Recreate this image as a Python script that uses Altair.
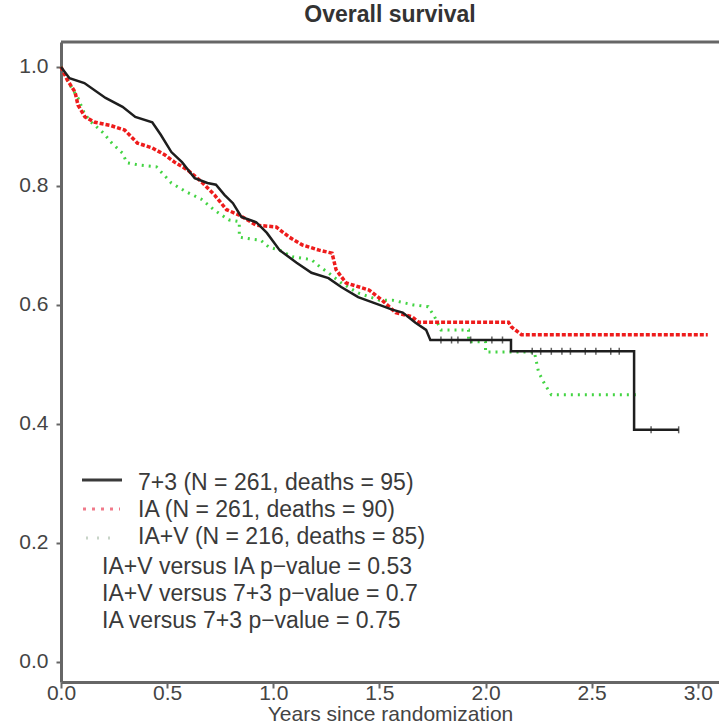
import altair as alt
import pandas as pd

# Kaplan-Meier overall survival, polyline vertices (years, survival probability)
arm_73_t = [0.0, 0.04, 0.11, 0.21, 0.29, 0.35, 0.43, 0.47, 0.52, 0.57, 0.63, 0.69,
            0.73, 0.77, 0.81, 0.85, 0.92, 0.97, 1.03, 1.11, 1.18, 1.26, 1.32, 1.40,
            1.50, 1.56, 1.61, 1.67, 1.72, 1.74, 2.12, 2.12, 2.70, 2.70, 2.91]
arm_73_s = [1.0, 0.981, 0.973, 0.948, 0.933, 0.916, 0.907, 0.886, 0.857, 0.840, 0.813, 0.805,
            0.802, 0.785, 0.771, 0.748, 0.739, 0.721, 0.692, 0.671, 0.654, 0.645, 0.630, 0.613,
            0.600, 0.592, 0.587, 0.570, 0.558, 0.541, 0.541, 0.522, 0.522, 0.390, 0.390]

arm_ia_t = [0.0, 0.03, 0.066, 0.08, 0.113, 0.16, 0.23, 0.30, 0.36, 0.43, 0.49, 0.535,
            0.596, 0.662, 0.723, 0.78, 0.84, 0.92, 1.014, 1.075, 1.136, 1.216, 1.277, 1.296,
            1.343, 1.451, 1.512, 1.577, 1.653, 1.685, 2.108, 2.122, 2.169, 3.047]
arm_ia_s = [1.0, 0.978, 0.958, 0.936, 0.916, 0.907, 0.902, 0.894, 0.872, 0.864, 0.852, 0.840,
            0.827, 0.807, 0.785, 0.760, 0.751, 0.734, 0.731, 0.714, 0.701, 0.692, 0.687, 0.659,
            0.637, 0.625, 0.608, 0.587, 0.580, 0.571, 0.571, 0.563, 0.550, 0.550]

arm_iav_t = [0.0, 0.05, 0.08, 0.11, 0.14, 0.20, 0.24, 0.29, 0.31, 0.37, 0.45, 0.52,
             0.59, 0.66, 0.72, 0.79, 0.84, 0.84, 0.89, 0.94, 0.98, 1.03, 1.09, 1.18,
             1.22, 1.26, 1.32, 1.40, 1.50, 1.56, 1.66, 1.73, 1.76, 1.79, 1.92, 1.92,
             2.00, 2.00, 2.23, 2.25, 2.28, 2.31, 2.72]
arm_iav_s = [1.0, 0.965, 0.948, 0.922, 0.908, 0.889, 0.872, 0.855, 0.839, 0.835, 0.832, 0.805,
             0.790, 0.778, 0.760, 0.743, 0.740, 0.714, 0.711, 0.709, 0.697, 0.692, 0.681, 0.676,
             0.664, 0.654, 0.637, 0.620, 0.608, 0.608, 0.600, 0.597, 0.580, 0.558, 0.558, 0.538,
             0.538, 0.521, 0.521, 0.487, 0.466, 0.449, 0.449]

# censoring marks on the 7+3 curve
censor_73_t = [1.79, 1.84, 1.87, 1.93, 2.03, 2.08, 2.22, 2.26, 2.31, 2.36, 2.40, 2.47,
               2.52, 2.59, 2.63, 2.78, 2.91]
censor_73_s = [0.541, 0.541, 0.541, 0.541, 0.541, 0.541, 0.522, 0.522, 0.522, 0.522, 0.522, 0.522,
               0.522, 0.522, 0.522, 0.390, 0.390]

legend_labels = ["7+3 (N = 261, deaths = 95)",
                 "IA (N = 261, deaths = 90)",
                 "IA+V (N = 216, deaths = 85)"]
pvalue_labels = ["IA+V versus IA p\u2212value = 0.53",
                 "IA+V versus 7+3 p\u2212value = 0.7",
                 "IA versus 7+3 p\u2212value = 0.75"]
chart_title = "Overall survival"
x_title = "Years since randomization"
x_ticks = [0.0, 0.5, 1.0, 1.5, 2.0, 2.5, 3.0]
y_ticks = [0.0, 0.2, 0.4, 0.6, 0.8, 1.0]

W, H = 658, 640
FONT = "Liberation Sans"
AXIS_GREY = "#666666"
TEXT_GREY = "#3a3a3a"


def curve(t, s):
    return pd.DataFrame({"t": t, "s": s, "i": list(range(len(t)))})


x_enc = alt.X("t:Q", scale=alt.Scale(domain=[0, 3.10], nice=False, zero=False),
              axis=alt.Axis(values=x_ticks, format=".1f", title=x_title, grid=False,
                            domainColor=AXIS_GREY, domainWidth=3, tickColor=AXIS_GREY,
                            tickWidth=2, tickSize=6, labelFontSize=21, labelFont=FONT,
                            labelColor="#444444", labelBaseline="middle", labelPadding=5,
                            labelFlush=False, labelOverlap=False, titleFont=FONT,
                            titleFontSize=21, titleFontWeight="normal", titleColor="#444444",
                            titleBaseline="middle", titleY=32))
y_enc = alt.Y("s:Q", scale=alt.Scale(domain=[-0.034, 1.042], nice=False, zero=False),
              axis=alt.Axis(values=y_ticks, format=".1f", title=None, grid=False,
                            domainColor=AXIS_GREY, domainWidth=3, tickColor=AXIS_GREY,
                            tickWidth=2, tickSize=5, labelFontSize=21, labelFont=FONT,
                            labelColor="#444444", labelPadding=8, labelBaseline="middle",
                            labelFlush=False, labelOverlap=False))

layers = []

# survival curves
layers.append(alt.Chart(curve(arm_iav_t, arm_iav_s)).mark_line(
    color="#22cc22", strokeWidth=3, strokeDash=[2, 5], opacity=0.85
).encode(x=x_enc, y=y_enc, order="i:Q"))
layers.append(alt.Chart(curve(arm_ia_t, arm_ia_s)).mark_line(
    color="#ee1c1c", strokeWidth=3.5, strokeDash=[4, 2]
).encode(x=x_enc, y=y_enc, order="i:Q"))
layers.append(alt.Chart(curve(arm_73_t, arm_73_s)).mark_line(
    color="#1e1e1e", strokeWidth=2.5
).encode(x=x_enc, y=y_enc, order="i:Q"))
layers.append(alt.Chart(pd.DataFrame({"t": censor_73_t, "s": censor_73_s})).mark_tick(
    color="#1e1e1e", orient="vertical", size=7, thickness=1.5
).encode(x=x_enc, y=y_enc))

# top frame line
layers.append(alt.Chart(pd.DataFrame({"k": [0]})).mark_rule(
    color=AXIS_GREY, strokeWidth=3
).encode(x=alt.value(0), x2=alt.value(W), y=alt.value(0)))

# title
layers.append(alt.Chart(pd.DataFrame({"label": [chart_title]})).mark_text(
    font=FONT, fontSize=23, fontWeight="bold", color="#333333", align="center", baseline="middle"
).encode(text="label:N", x=alt.value(W / 2), y=alt.value(-27)))

# legend keys
layers.append(alt.Chart(pd.DataFrame({"k": [0]})).mark_rule(
    color="#3a3a3a", strokeWidth=3
).encode(x=alt.value(21), x2=alt.value(61), y=alt.value(438)))
layers.append(alt.Chart(pd.DataFrame({"k": [0]})).mark_rule(
    color="#f07a8a", strokeWidth=3, strokeDash=[3, 6]
).encode(x=alt.value(22), x2=alt.value(59), y=alt.value(467)))
layers.append(alt.Chart(pd.DataFrame({"k": [0]})).mark_rule(
    color="#c8d4c8", strokeWidth=3, strokeDash=[2, 9]
).encode(x=alt.value(25), x2=alt.value(50), y=alt.value(496)))

# legend and test texts
for i, lab in enumerate(legend_labels):
    layers.append(alt.Chart(pd.DataFrame({"label": [lab]})).mark_text(
        font=FONT, fontSize=23, color=TEXT_GREY, align="left", baseline="middle"
    ).encode(text="label:N", x=alt.value(77), y=alt.value(441 + 27 * i)))
for i, lab in enumerate(pvalue_labels):
    layers.append(alt.Chart(pd.DataFrame({"label": [lab]})).mark_text(
        font=FONT, fontSize=23, color=TEXT_GREY, align="left", baseline="middle"
    ).encode(text="label:N", x=alt.value(41), y=alt.value(525 + 27 * i)))

chart = alt.layer(*layers).properties(
    width=W, height=H,
    padding={"left": 61, "top": 42, "right": 0, "bottom": 44},
    autosize=alt.AutoSizeParams(type="none"),
    background="white",
).configure_view(stroke=None)

chart.save("out.html", embed_options={"renderer": "svg", "actions": False})
